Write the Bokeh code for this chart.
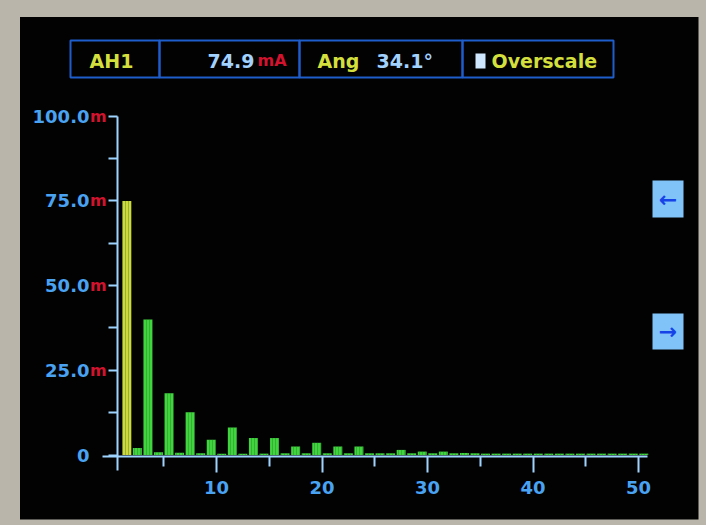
from bokeh.plotting import figure
from bokeh.models import Range1d, FixedTicker, GlobalInlineStyleSheet
from bokeh.core.properties import value
from bokeh.embed import file_html
from bokeh.resources import INLINE

# ---------------- data ----------------
harmonics = list(range(1, 51))
amplitudes_mA = [74.9, 2.1, 40.0, 0.8, 18.2, 0.7, 12.6, 0.5, 4.5, 0.4,
                 8.1, 0.4, 5.0, 0.4, 5.0, 0.5, 2.5, 0.5, 3.6, 0.5,
                 2.5, 0.5, 2.5, 0.5, 0.5, 0.5, 1.5, 0.5, 1.0, 0.5,
                 1.0, 0.5, 0.6, 0.5, 0.4, 0.4, 0.4, 0.4, 0.4, 0.4,
                 0.4, 0.4, 0.4, 0.4, 0.4, 0.4, 0.4, 0.4, 0.4, 0.4]
y_ticks = [0, 25, 50, 75, 100]
y_minor_ticks = [12.5, 37.5, 62.5, 87.5]
y_tick_labels = ["0", "25.0", "50.0", "75.0", "100.0"]
y_tick_units = ["", "m", "m", "m", "m"]
x_ticks = [10, 20, 30, 40, 50]
x_minor_ticks = [5, 15, 25, 35, 45]
channel = "AH1"
fundamental_value = "74.9"
fundamental_unit = "mA"
angle_name = "Ang"
angle_value = "34.1°"
status_text = "Overscale"

# ---------------- colours ----------------
FRAME = "#b9b5aa"
SCREEN = "#020203"
AXIS = "#9fd3ff"
TICK_LABEL = "#4aa3f2"
RED = "#d3122e"
YELLOW = "#d3df3c"
PALE_BLUE = "#a2d2ff"
BOX = "#1e5dcc"
BAR_FUND = "#cfd83e"
BAR_HARM = "#40d43f"
BAR_STRIPE = "#1f6a1f"
BUTTON = "#80c3f9"
ARROW = "#1643e8"
FONT = value("DejaVu Sans")

# ---------------- pixel layout helpers (window pixels) ----------------
PX_H10 = 216.0     # x pixel of harmonic 10
PX_PER_H = 10.55
PX_Y0 = 454.5      # y pixel of value 0
PX_PER_Y = 3.39
W, H = 706, 525


def hx(px):
    return 10 + (px - PX_H10) / PX_PER_H


def vy(py):
    return (PX_Y0 - py) / PX_PER_Y


p = figure(width=W, height=H,
           x_range=Range1d(hx(0), hx(W)), y_range=Range1d(vy(H), vy(0)),
           output_backend="svg", toolbar_location=None,
           background_fill_color=FRAME, border_fill_color=FRAME,
           outline_line_color=None)
p.min_border = 0
p.min_border_left = 0
p.min_border_right = 0
p.min_border_top = 0
p.min_border_bottom = 0
p.grid.visible = False
p.stylesheets = [GlobalInlineStyleSheet(css="html, body { background-color: %s; }" % FRAME)]

# screen
p.quad(left=hx(19.5), right=hx(698), top=vy(16.5), bottom=vy(519),
       fill_color=SCREEN, line_color=None)

# bars
bar_x = [h + 0.5 for h in harmonics]
bar_colors = [BAR_FUND if h == 1 else BAR_HARM for h in harmonics]
p.vbar(x=bar_x, width=0.85, top=amplitudes_mA, bottom=0,
       fill_color=bar_colors, line_color=None,
       hatch_pattern="|", hatch_color=BAR_STRIPE, hatch_alpha=0.35,
       hatch_scale=3, hatch_weight=1)

# y axis
yax = p.yaxis[0]
yax.fixed_location = hx(117)
yax.bounds = (vy(470), y_ticks[-1])
yax.ticker = FixedTicker(ticks=y_ticks, minor_ticks=y_minor_ticks)
yax.major_label_overrides = {t: l for t, l in zip(y_ticks, y_tick_labels)}
yax.axis_line_color = AXIS
yax.axis_line_width = 2
yax.major_tick_line_color = AXIS
yax.major_tick_line_width = 2
yax.minor_tick_line_color = AXIS
yax.minor_tick_line_width = 2
yax.major_tick_in = 0
yax.major_tick_out = 9
yax.minor_tick_in = 0
yax.minor_tick_out = 9
yax.major_label_standoff = 19
yax.major_label_text_color = TICK_LABEL
yax.major_label_text_font = "DejaVu Sans"
yax.major_label_text_font_style = "bold"
yax.major_label_text_font_size = "18px"

# red unit suffix on y labels
unit_y = [t for t, u in zip(y_ticks, y_tick_units) if u]
unit_t = [u for u in y_tick_units if u]
p.text(x=[hx(89.5)] * len(unit_y), y=unit_y, text=unit_t,
       text_color=RED, text_font=FONT, text_font_style="bold",
       text_font_size="16px", text_align="left", text_baseline="middle")

# x axis
xax = p.xaxis[0]
xax.fixed_location = vy(455.5)
xax.bounds = (hx(102), hx(647))
xax.ticker = FixedTicker(ticks=x_ticks, minor_ticks=x_minor_ticks)
xax.axis_line_color = AXIS
xax.axis_line_width = 2
xax.major_tick_line_color = AXIS
xax.major_tick_line_width = 2
xax.minor_tick_line_color = AXIS
xax.minor_tick_line_width = 2
xax.major_tick_in = 0
xax.major_tick_out = 16
xax.minor_tick_in = 0
xax.minor_tick_out = 10
xax.major_label_standoff = 9
xax.major_label_text_color = TICK_LABEL
xax.major_label_text_font = "DejaVu Sans"
xax.major_label_text_font_style = "bold"
xax.major_label_text_font_size = "18px"

# header box
cell_edges = [70, 159, 299, 462, 613]
p.quad(left=[hx(a) for a in cell_edges[:-1]], right=[hx(b) for b in cell_edges[1:]],
       top=vy(40), bottom=vy(77), fill_color=None, line_color=BOX, line_width=2)

hy = vy(60)
common = dict(text_font=FONT, text_font_style="bold", text_baseline="middle")
p.text(x=[hx(111)], y=[hy], text=[channel], text_color=YELLOW, text_align="center",
       text_font_size="19px", **common)
p.text(x=[hx(254)], y=[hy], text=[fundamental_value], text_color=PALE_BLUE, text_align="right",
       text_font_size="19px", **common)
p.text(x=[hx(257)], y=[hy], text=[fundamental_unit], text_color=RED, text_align="left",
       text_font_size="16px", **common)
p.text(x=[hx(317)], y=[hy], text=[angle_name], text_color=YELLOW, text_align="left",
       text_font_size="19px", **common)
p.text(x=[hx(376)], y=[hy], text=[angle_value], text_color=PALE_BLUE, text_align="left",
       text_font_size="19px", **common)
p.quad(left=hx(475), right=hx(485), top=vy(53), bottom=vy(68),
       fill_color="#cfe6ff", line_color=None)
p.text(x=[hx(491)], y=[hy], text=[status_text], text_color=YELLOW, text_align="left",
       text_font_size="19px", **common)

# scroll buttons
p.quad(left=hx(652), right=hx(683), top=[vy(180), vy(313)], bottom=[vy(217), vy(349)],
       fill_color=BUTTON, line_color=None)
p.text(x=[hx(667.5), hx(667.5)], y=[vy(198.5), vy(331)], text=["←", "→"],
       text_color=ARROW, text_align="center", text_baseline="middle",
       text_font=FONT, text_font_style="bold", text_font_size="22px")

open("out.html", "w").write(file_html(p, INLINE))
